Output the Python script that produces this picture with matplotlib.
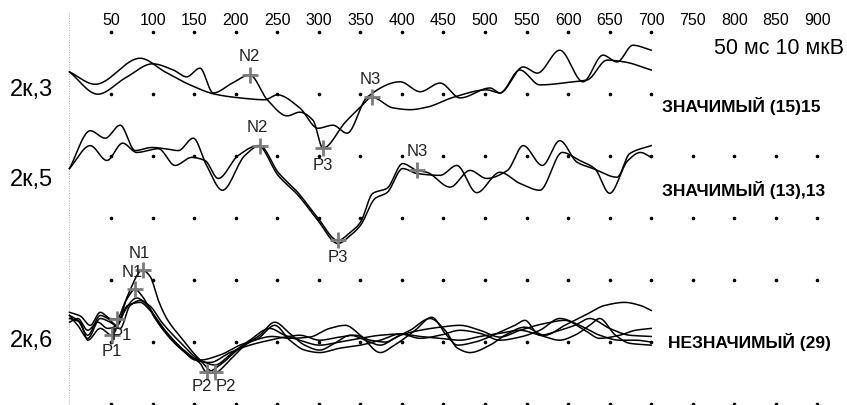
import numpy as np
import matplotlib
matplotlib.use('Agg')
import matplotlib.pyplot as plt

plt.rcParams['font.family'] = ['Liberation Sans', 'DejaVu Sans']

# ---- data (time in ms, amplitude in uV relative to channel baseline, up = positive) ----
tick_ms = list(range(50, 950, 50))

channels = ['2к,3', '2к,5', '2к,6']
verdicts = ['ЗНАЧИМЫЙ (15)15', 'ЗНАЧИМЫЙ (13),13', 'НЕЗНАЧИМЫЙ (29)']
scale_text = '50 мс 10 мкВ'

# 2к,3
t3a = [0, 34, 67, 100, 125, 141, 157, 173, 196, 217, 238, 262, 277, 293, 305, 332, 350, 364,
       389, 410, 430, 462, 502, 518, 542, 566, 606, 623, 647, 668, 700]
v3a = [2.6, -1.0, 1.6, 3.9, 2.9, 1.8, 3.2, -0.8, 0.8, 2.1, -1.9, -4.5, -3.9, -5.2, -9.7, -5.5, -3.1, -1.5,
       -3.2, -3.5, -3.1, -1.5, -0.3, -0.8, 2.9, 0.5, 1.0, 1.3, 4.5, 4.2, 2.9]
t3b = [0, 31, 85, 115, 145, 175, 205, 235, 250, 277, 299, 317, 334, 358, 398, 422, 446, 470,
       506, 518, 546, 563, 590, 618, 642, 659, 678, 700]
v3b = [2.6, 0.6, 4.8, 2.6, 0.5, -1.0, -1.6, -1.9, -1.1, -3.2, -6.5, -6.0, -7.3, -1.5, 1.0, -0.6, 0.8, -1.6,
       0.0, -0.8, 3.4, 2.4, 6.1, 1.0, 5.3, 4.2, 6.9, 6.1]

# 2к,5
t5a = [0, 25, 43, 61, 79, 99, 115, 131, 149, 165, 184, 211, 229, 251, 275, 299, 323, 338, 350,
       365, 382, 401, 418, 430, 458, 482, 502, 527, 546, 569, 590, 611, 630, 659, 674, 700]
v5a = [2.4, 8.5, 7.3, 9.4, 5.3, 5.8, 5.6, 5.3, 7.3, 2.9, -1.1, 4.5, 6.1, 1.8, -1.5, -5.6, -9.2, -7.9, -6.3,
       -1.6, -0.8, 3.2, 2.1, 1.8, -0.6, 2.1, 0.8, 2.1, 6.1, 2.9, 6.9, 3.4, 2.4, 1.0, 4.8, 6.1]
t5b = [0, 25, 45, 64, 81, 107, 127, 147, 163, 179, 203, 227, 251, 275, 299, 323, 338, 350,
       368, 382, 401, 418, 446, 466, 490, 518, 542, 566, 593, 614, 632, 650, 672, 687, 700]
v5b = [2.4, 6.1, 3.7, 6.5, 5.0, 5.6, 2.9, 4.2, 3.7, 0.8, 4.5, 6.1, 1.3, -1.9, -6.0, -9.7, -8.4, -6.8,
       -2.4, -1.5, 2.4, 1.6, 1.3, 2.9, -1.5, 1.8, 0.0, -1.1, 5.0, 3.7, 2.4, -1.6, 3.7, 5.0, 4.2]

# 2к,6
t6a = [0, 10, 22, 37, 46, 57, 70, 88, 97, 107, 117, 135, 155, 175, 193, 211, 229, 247, 265, 283,
       301, 319, 338, 356, 374, 391, 410, 434, 452, 467, 482, 506, 524, 548, 572, 596, 620, 644, 668, 687, 700]
v6a = [4.5, 3.7, 1.3, 4.5, 4.0, 2.9, 7.7, 11.8, 10.8, 6.9, 4.0, 0.8, -2.4, -4.7, -2.7, -0.3, 1.3, 3.4, 1.6, -0.3,
       -1.1, 0.0, 1.3, 0.5, -0.3, 0.8, 2.1, 4.0, 2.1, -0.8, -1.5, -0.3, 1.3, 2.6, 1.3, 2.9, 4.5, 6.1, 6.6, 6.1, 5.3]
t6b = [0, 13, 25, 37, 49, 57, 68, 79, 87, 103, 121, 139, 157, 165, 181, 205, 223, 244, 265, 289,
       313, 332, 350, 374, 391, 416, 436, 452, 467, 488, 518, 536, 548, 566, 590, 608, 626, 650, 674, 700]
v6b = [5.0, 4.4, 2.9, 5.0, 4.0, 3.9, 6.9, 8.7, 7.7, 4.0, 0.8, -1.5, -3.2, -4.7, -3.5, -0.8, 0.5, 1.1, 0.8, 1.0,
       2.4, 2.9, 1.3, -1.5, -0.3, 2.1, 4.2, 1.6, -0.3, 0.2, 1.8, 2.9, 3.7, 1.3, 2.1, 2.9, 4.0, 2.4, 1.3, 1.1]
t6c = [0, 13, 22, 37, 51, 63, 81, 94, 109, 131, 151, 169, 193, 217, 241, 259, 277, 301, 325, 344,
       362, 380, 398, 422, 446, 470, 494, 518, 542, 572, 596, 620, 638, 662, 681, 700]
v6c = [4.0, 3.4, 0.5, 2.4, 1.3, 4.5, 7.3, 6.1, 2.9, -0.3, -2.7, -3.1, -1.5, -0.3, 0.5, 1.0, 1.3, 0.5, 1.0, 1.3,
       0.5, 0.2, 1.3, 2.1, 2.6, 2.9, 2.1, 1.0, 2.1, 3.2, 3.7, 2.1, 0.8, 1.3, 2.1, 2.4]
t6d = [0, 10, 22, 34, 46, 58, 70, 85, 97, 115, 135, 157, 181, 205, 227, 247, 265, 283, 301, 325,
       350, 374, 398, 422, 446, 470, 494, 518, 542, 566, 590, 614, 638, 662, 681, 700]
v6d = [3.4, 4.0, 2.1, 3.4, 2.4, 2.9, 6.1, 6.6, 5.3, 2.1, -0.8, -2.7, -1.9, -0.3, 0.8, 2.9, 0.5, -1.1, -1.5, -0.8,
       -0.3, 0.5, 1.5, 0.8, 1.3, 2.1, 1.6, 0.5, 1.0, 2.1, 4.0, 2.9, 1.3, 0.5, 0.5, 0.2]
t6e = [0, 10, 22, 37, 49, 61, 73, 85, 97, 111, 133, 157, 175, 196, 217, 241, 259, 277, 301, 325,
       350, 374, 398, 422, 446, 470, 494, 518, 542, 566, 590, 608, 626, 638, 657, 674, 700]
v6e = [4.5, 2.9, 0.8, 4.0, 3.4, 2.4, 6.1, 6.9, 6.0, 3.4, 0.2, -2.7, -3.5, -1.5, 0.5, 2.4, 1.3, 0.5, -0.3, 0.2,
       0.8, 1.3, 1.5, 1.1, 0.8, 0.5, 1.1, 1.6, 2.1, 1.3, 0.5, 1.3, 2.9, 4.0, 1.3, 0.0, -0.3]

traces = [[(t3a, v3a), (t3b, v3b)],
          [(t5a, v5a), (t5b, v5b)],
          [(t6a, v6a), (t6b, v6b), (t6c, v6c), (t6d, v6d), (t6e, v6e)]]

# peak markers: channel, trace, latency (ms), name
peaks = [(0, 0, 217, 'N2'), (0, 0, 305, 'P3'), (0, 0, 364, 'N3'),
         (1, 0, 229, 'N2'), (1, 0, 323, 'P3'), (1, 0, 418, 'N3'),
         (2, 0, 88, 'N1'), (2, 1, 79, 'N1'), (2, 1, 57, 'P1'), (2, 2, 51, 'P1'),
         (2, 1, 165, 'P2'), (2, 0, 175, 'P2')]

# ---- layout ----
baseline = [51.0, 35.6, 9.8]          # uV position of each channel
label_y = [50.7, 36.1, 10.1]
verdict_y = [48.1, 34.5, 10.0]
verdict_x = [713, 713, 720]
label_off = [(0, 18), (0, -17), (-2, 18),
             (-2, 18), (0, -17), (0, 19),
             (-3, 17), (-3, 17), (5, -16), (0, -16),
             (-5, -14), (11, -14)]


def pchip(x, y, xs):
    x = np.asarray(x, float)
    y = np.asarray(y, float)
    h = np.diff(x)
    d = np.diff(y) / h
    m = np.zeros_like(y)
    for k in range(1, len(x) - 1):
        if d[k - 1] * d[k] > 0:
            w1 = 2 * h[k] + h[k - 1]
            w2 = h[k] + 2 * h[k - 1]
            m[k] = (w1 + w2) / (w1 / d[k - 1] + w2 / d[k])
    m[0], m[-1] = d[0], d[-1]
    i = np.clip(np.searchsorted(x, xs, side='right') - 1, 0, len(h) - 1)
    s = (xs - x[i]) / h[i]
    return (y[i] * (2 * s**3 - 3 * s**2 + 1) + h[i] * m[i] * (s**3 - 2 * s**2 + s)
            + y[i + 1] * (-2 * s**3 + 3 * s**2) + h[i] * m[i + 1] * (s**3 - s**2))


fig = plt.figure(figsize=(8.47, 4.05), dpi=100)
ax = fig.add_axes([0, 0, 1, 1])
ax.set_xlim(-83.6, 935.6)
ax.set_ylim(-0.16, 65.2)
ax.axis('off')

# dot grid
for row in range(0, 70, 10):
    xs = [t for t in tick_ms if row not in (60, 50, 10) or t <= 700]
    ax.plot(xs, [row] * len(xs), ls='none', marker='o', ms=1.6, color='black')

ax.plot([0, 0], [-0.2, 63.2], color='#aaaaaa', lw=0.7, ls=(0, (1, 1.5)))

for t in tick_ms:
    ax.text(t, 61.9, str(t), ha='center', va='center', fontsize=11.5)
ax.text(932, 57.3, scale_text, ha='right', va='center', fontsize=15.5)

tt = np.linspace(0, 700, 1401)
smooth = []
for c, group in enumerate(traces):
    row = []
    for t, v in group:
        yy = pchip(t, v, tt) + baseline[c]
        ax.plot(tt, yy, color='black', lw=1.1)
        row.append(yy)
    smooth.append(row)
    ax.text(-72, label_y[c], channels[c], ha='left', va='center', fontsize=17)
    ax.text(verdict_x[c], verdict_y[c], verdicts[c], ha='left', va='center',
            fontsize=12.5, fontweight='bold')

for (c, k, t, name), off in zip(peaks, label_off):
    y = np.interp(t, tt, smooth[c][k])
    ax.plot(t, y, marker='+', ms=11, mew=2, color='#7a7a7a')
    ax.annotate(name, (t, y), xytext=off, textcoords='offset pixels',
                ha='center', va='center', fontsize=12, color='#222222')

fig.savefig('out.png', dpi=100)
